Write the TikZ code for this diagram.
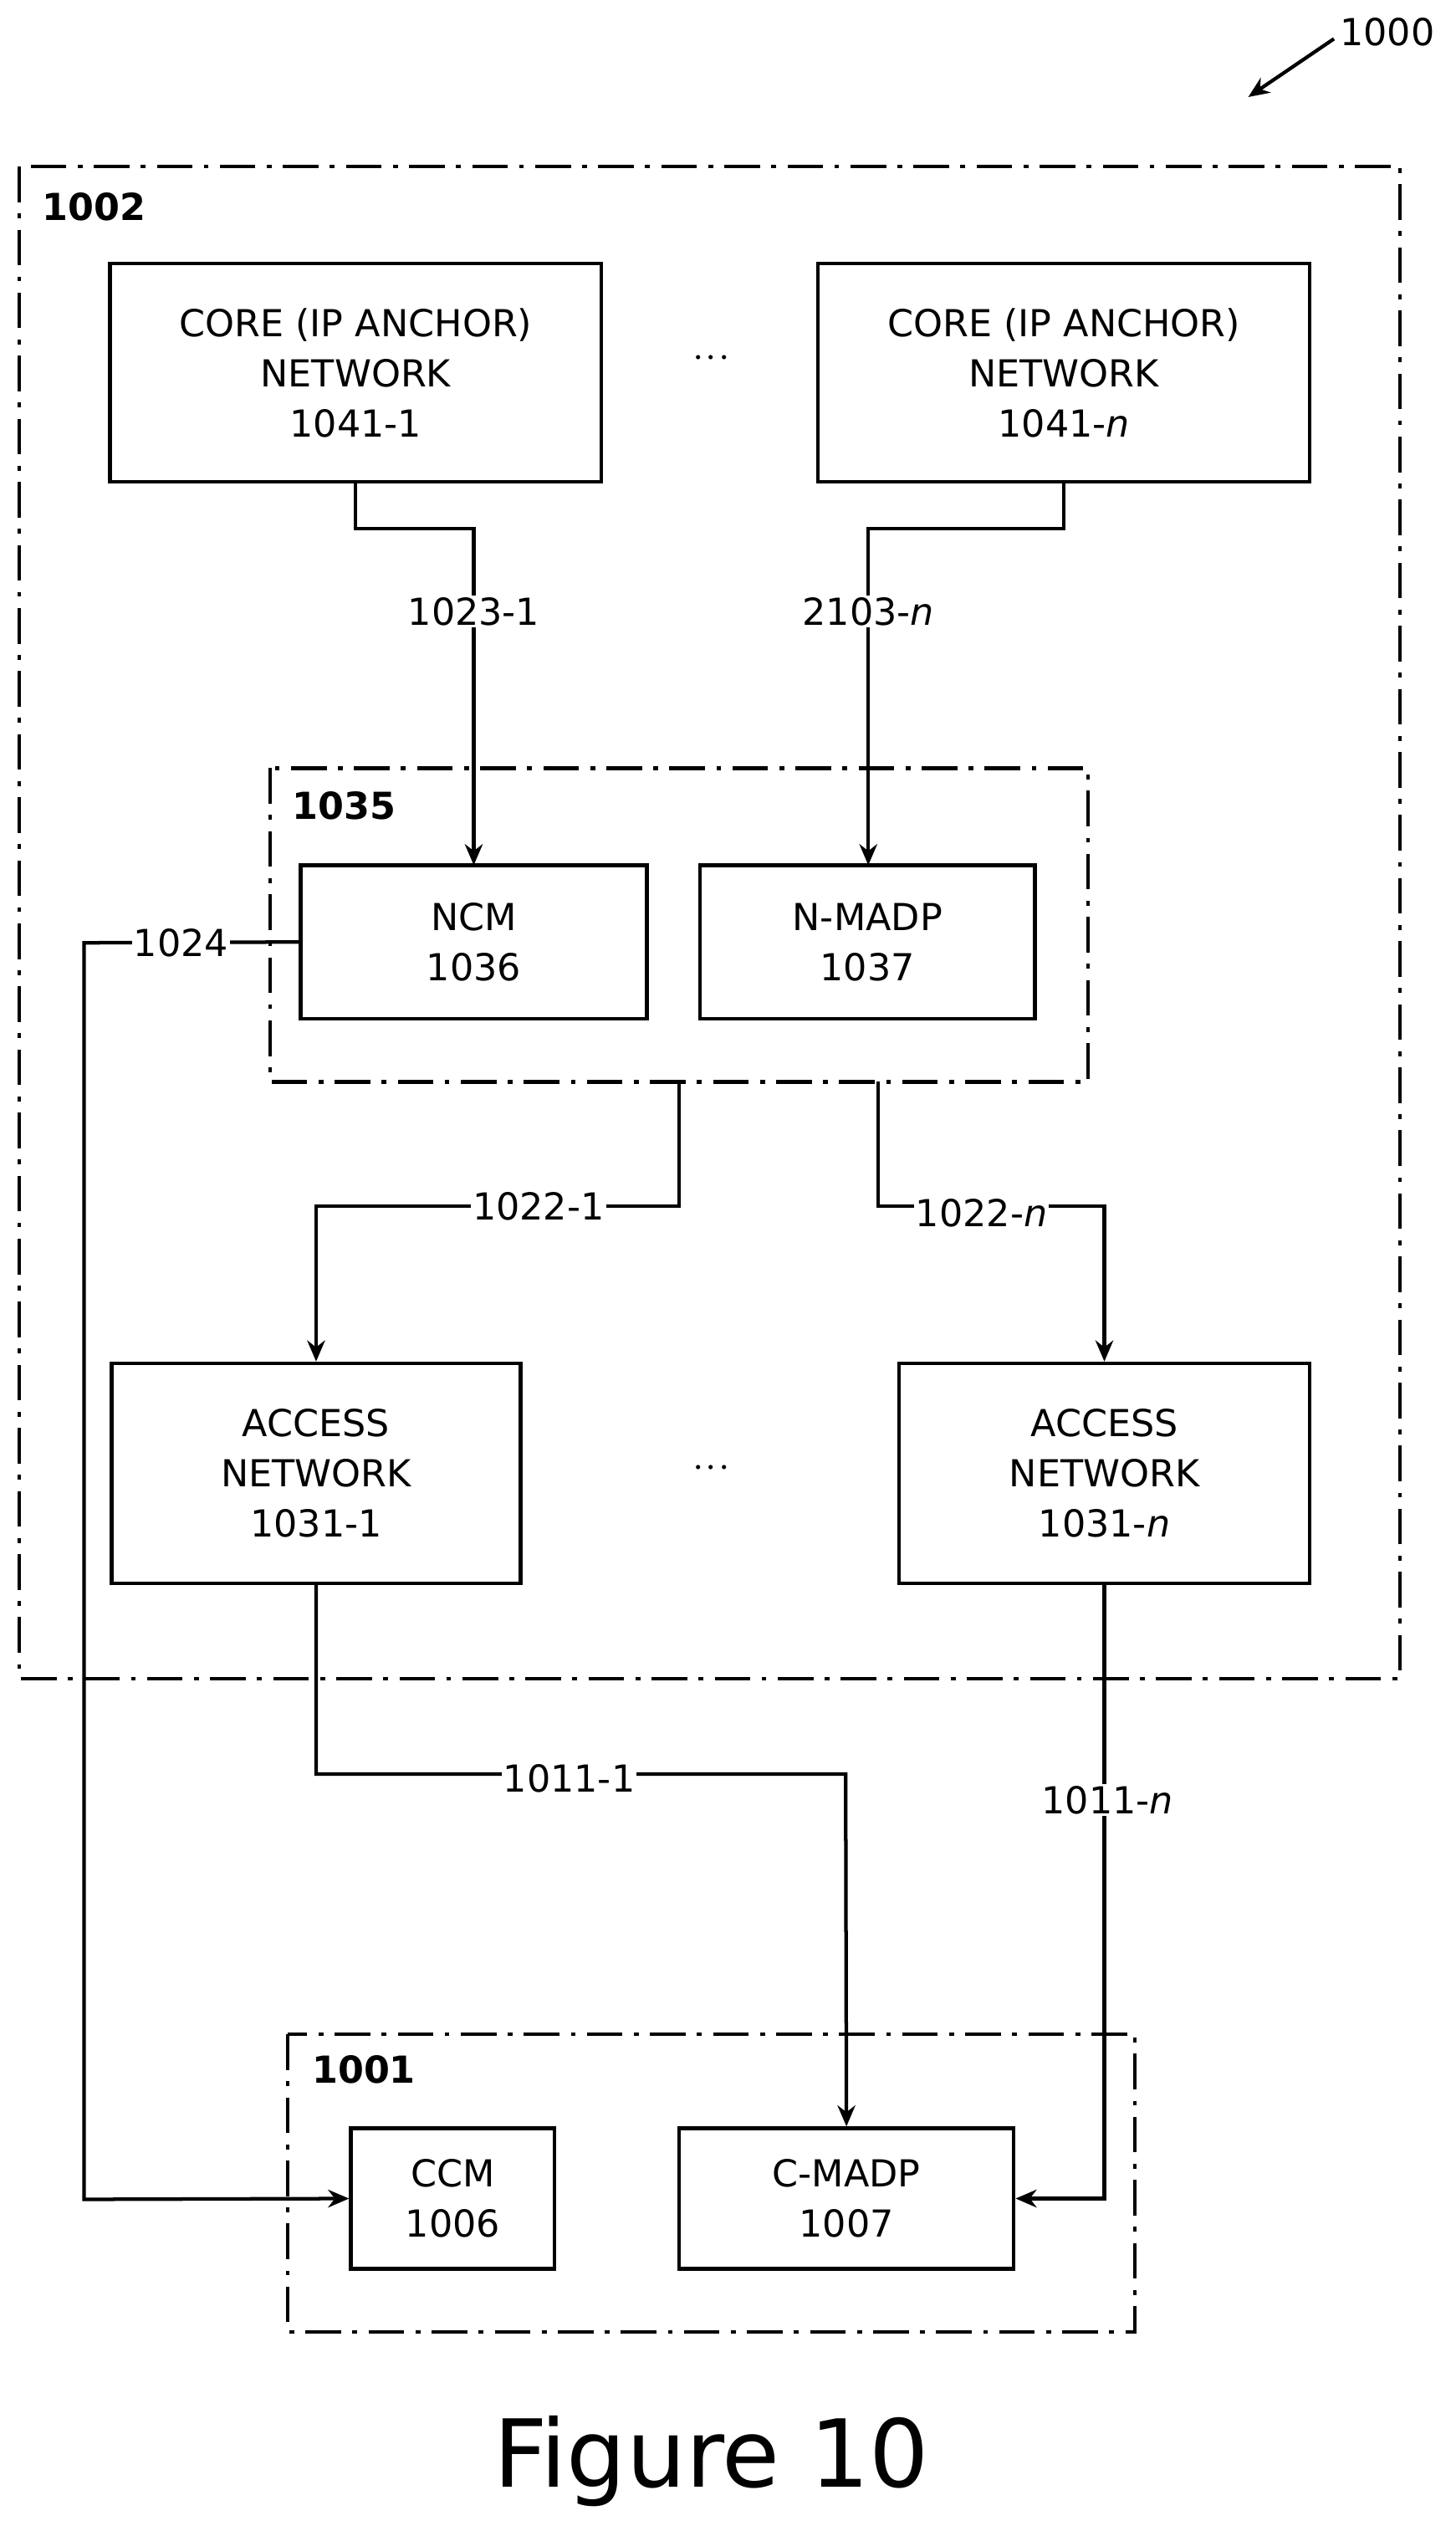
\documentclass[tikz,border=0pt]{standalone}
\usepackage{fontspec}
\setmainfont{DejaVu Sans}
\usetikzlibrary{arrows.meta}
\begin{document}
\begin{tikzpicture}[x=1pt,y=-1pt,
  box/.style={draw,line width=2.2pt,align=center,font=\fontsize{23}{31}\selectfont,inner sep=0pt},
  grp/.style={draw,line width=2.2pt,dash pattern=on 22pt off 7pt on 3pt off 7pt},
  wire/.style={line width=2.2pt},
  arr/.style={wire,-{Stealth[length=13pt,width=11pt]}},
  lab/.style={fill=white,inner sep=1pt,font=\fontsize{23}{28}\selectfont},
  glab/.style={font=\fontsize{23}{28}\selectfont\bfseries}]
\useasboundingbox (0,0) rectangle (900,1562);
% ref arrow
\node[font=\fontsize{23}{28}\selectfont] (r1000) at (858,20) {1000};
\coordinate (r1000e) at (772,60);
\draw[arr] (825,24) -- (r1000e);
% groups
\draw[grp] (12,103) rectangle (866,1038);
\node[glab] (g1002) at (58,128) {1002};
\draw[grp] (167,475) rectangle (673,669);
\node[glab] (g1035) at (213,498) {1035};
\draw[grp] (178,1258) rectangle (702,1442);
\node[glab] (g1001) at (225,1280) {1001};
% boxes
\node[box,minimum width=304pt,minimum height=135pt] (c1) at (220,230.5) {CORE (IP ANCHOR)\\NETWORK\\1041-1};
\node[box,minimum width=304pt,minimum height=135pt] (cn) at (658,230.5) {CORE (IP ANCHOR)\\NETWORK\\1041-\textit{n}};
\node[font=\fontsize{30}{30}\selectfont] (d1) at (440,222) {$\cdot\!\cdot\!\cdot$};
\node[box,minimum width=214pt,minimum height=95pt] (ncm) at (293,582.5) {NCM\\1036};
\node[box,minimum width=207pt,minimum height=95pt] (nm) at (536.5,582.5) {N-MADP\\1037};
\node[box,minimum width=253pt,minimum height=136pt] (a1) at (195.5,911) {ACCESS\\NETWORK\\1031-1};
\node[box,minimum width=254pt,minimum height=136pt] (an) at (683,911) {ACCESS\\NETWORK\\1031-\textit{n}};
\node[font=\fontsize{30}{30}\selectfont] (d2) at (440,908) {$\cdot\!\cdot\!\cdot$};
\node[box,minimum width=126pt,minimum height=87pt] (ccm) at (280,1359.5) {CCM\\1006};
\node[box,minimum width=207pt,minimum height=87pt] (cm) at (523.5,1359.5) {C-MADP\\1007};
% connectors
\draw[arr] (c1.south) |- (293,327) -- (293,535);
\node[lab] at (293,378) {1023-1};
\draw[arr] (cn.south) |- (537,327) -- (537,535);
\node[lab] at (537,378) {2103-\textit{n}};
\draw[arr] (ncm.west) -- (52,583) -- (52,1360) -- (ccm.west);
\node[lab] at (112,583) {1024};
\draw[arr] (420,669) -- (420,746) -| (a1.north);
\node[lab] at (333,746) {1022-1};
\draw[arr] (543,669) -- (543,746) -| (an.north);
\node[lab] at (607,750) {1022-\textit{n}};
\draw[arr] (a1.south) |- (523,1097) -- (cm.north);
\node[lab] at (352,1100) {1011-1};
\draw[arr] (an.south) |- (cm.east);
\node[lab] at (685,1113) {1011-\textit{n}};
\node[font=\fontsize{58}{60}\selectfont] (fig) at (440,1522) {Figure 10};
\end{tikzpicture}
\end{document}
